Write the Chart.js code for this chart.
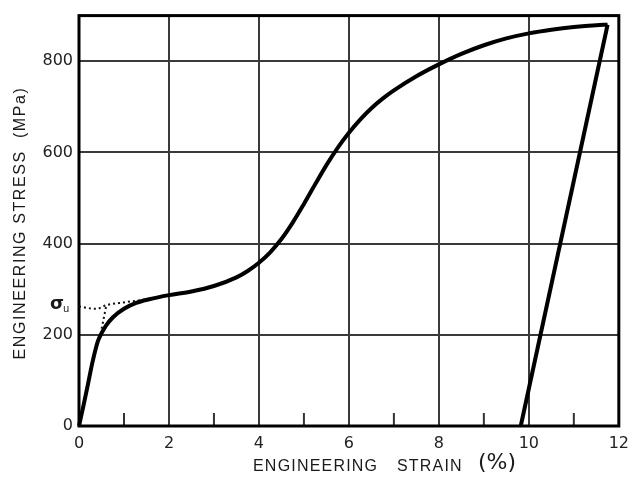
<!DOCTYPE html>
<html>
<head>
<meta charset="utf-8">
<script src="https://cdn.jsdelivr.net/npm/chart.js@4/dist/chart.umd.min.js"></script>
<style>
  body { margin: 0; background: #fff; }
  canvas { display: block; }
</style>
</head>
<body>
<canvas id="stress-strain" width="637" height="477"></canvas>
<script>
// data (strain in %, stress in MPa)
var loadingCurve = [
  [0, 0], [0.1, 45], [0.2, 92], [0.3, 140], [0.42, 186], [0.5, 203], [0.6, 220],
  [0.75, 238], [1.0, 257], [1.27, 270], [1.56, 278], [2.0, 287], [2.5, 295],
  [3.0, 307], [3.5, 326], [3.75, 340], [4.0, 358], [4.25, 381], [4.5, 410],
  [4.75, 446], [5.0, 487], [5.25, 530], [5.5, 572], [5.75, 610], [6.0, 643],
  [6.25, 672], [6.5, 697], [6.75, 718], [7.0, 736], [7.5, 767], [8.0, 793],
  [8.5, 816], [9.0, 835], [9.5, 850], [10.0, 861], [10.5, 869], [11.0, 875],
  [11.5, 879], [11.75, 880]
];
var unloadingLine = [[11.75, 880], [9.82, 0]];
var offsetDotted = [[0.46, 192], [0.61, 266]];
var yieldDotted = [[0, 262], [0.39, 257], [0.61, 265], [1.0, 271], [1.45, 277]];
var sigmaU = 262;

var xTicks = [0, 2, 4, 6, 8, 10, 12];
var xMinorTicks = [1, 3, 5, 7, 9, 11];
var yTicks = [0, 200, 400, 600, 800];

function pts(arr) {
  return arr.map(function(p) { return { x: p[0], y: p[1] }; });
}

var decorations = {
  id: 'decorations',
  beforeDatasetsDraw: function(chart) {
    var ctx = chart.ctx, a = chart.chartArea;
    var xs = chart.scales.x;
    ctx.save();
    // minor ticks
    ctx.strokeStyle = '#333';
    ctx.lineWidth = 2;
    xMinorTicks.forEach(function(v) {
      var px = xs.getPixelForValue(v);
      ctx.beginPath();
      ctx.moveTo(px, a.bottom);
      ctx.lineTo(px, a.bottom - 13);
      ctx.stroke();
    });
    // frame
    ctx.strokeStyle = '#000';
    ctx.lineWidth = 3;
    ctx.strokeRect(a.left, a.top, a.right - a.left, a.bottom - a.top);
    ctx.restore();
  },
  afterDraw: function(chart) {
    var ctx = chart.ctx;
    var ys = chart.scales.y;
    ctx.save();
    ctx.fillStyle = '#1a1a1a';
    ctx.textBaseline = 'middle';
    // sigma u label
    var py = ys.getPixelForValue(sigmaU);
    ctx.font = 'bold 18px "DejaVu Sans"';
    ctx.textAlign = 'left';
    ctx.fillText('σ', 50, py - 2);
    ctx.font = '10px "DejaVu Sans"';
    ctx.fillText('u', 63, py + 3);
    // x title
    ctx.letterSpacing = '1.2px';
    ctx.font = '16px "Liberation Sans"';
    ctx.fillText('ENGINEERING', 253, 467);
    ctx.fillText('STRAIN', 397, 467);
    ctx.letterSpacing = '0px';
    ctx.font = '22px "DejaVu Sans"';
    ctx.fillText('(%)', 478, 463);
    // y title
    ctx.translate(21, 223);
    ctx.rotate(-Math.PI / 2);
    ctx.textAlign = 'center';
    ctx.letterSpacing = '1.6px';
    ctx.font = '16px "Liberation Sans"';
    ctx.fillText('ENGINEERING STRESS  (MPa)', 0, 0);
    ctx.restore();
  }
};

new Chart(document.getElementById('stress-strain'), {
  type: 'line',
  data: {
    datasets: [
      {
        data: pts(loadingCurve),
        borderColor: '#000',
        borderWidth: 4,
        pointRadius: 0,
        cubicInterpolationMode: 'monotone',
        clip: false
      },
      {
        data: pts(unloadingLine),
        borderColor: '#000',
        borderWidth: 4,
        pointRadius: 0,
        tension: 0,
        clip: false
      },
      {
        data: pts(offsetDotted),
        borderColor: '#111',
        borderWidth: 2,
        borderDash: [2, 3],
        pointRadius: 0,
        tension: 0
      },
      {
        data: pts(yieldDotted),
        borderColor: '#111',
        borderWidth: 2,
        borderDash: [2, 3],
        pointRadius: 0,
        cubicInterpolationMode: 'monotone'
      }
    ]
  },
  options: {
    responsive: false,
    animation: false,
    layout: { padding: { top: 13, right: 11, left: 0, bottom: 0 } },
    plugins: {
      legend: { display: false },
      tooltip: { enabled: false }
    },
    scales: {
      x: {
        type: 'linear',
        min: 0,
        max: 12,
        afterBuildTicks: function(scale) {
          scale.ticks = xTicks.map(function(v) { return { value: v }; });
        },
        afterFit: function(scale) { scale.height = 51; },
        grid: {
          drawTicks: false,
          lineWidth: 2,
          color: function(c) {
            var v = c.tick ? c.tick.value : 0;
            return (v === 0 || v === 12) ? 'rgba(0,0,0,0)' : '#3a3a3a';
          }
        },
        border: { display: false },
        ticks: {
          padding: 8,
          color: '#222',
          font: { family: 'DejaVu Sans', size: 16 }
        }
      },
      y: {
        type: 'linear',
        min: 0,
        max: 900,
        afterBuildTicks: function(scale) {
          scale.ticks = yTicks.map(function(v) { return { value: v }; });
        },
        afterFit: function(scale) { scale.width = 79; },
        grid: {
          drawTicks: false,
          lineWidth: 2,
          color: function(c) {
            var v = c.tick ? c.tick.value : 0;
            return v === 0 ? 'rgba(0,0,0,0)' : '#3a3a3a';
          }
        },
        border: { display: false },
        ticks: {
          padding: 6,
          color: '#222',
          font: { family: 'DejaVu Sans', size: 16 }
        }
      }
    }
  },
  plugins: [decorations]
});
</script>
</body>
</html>
